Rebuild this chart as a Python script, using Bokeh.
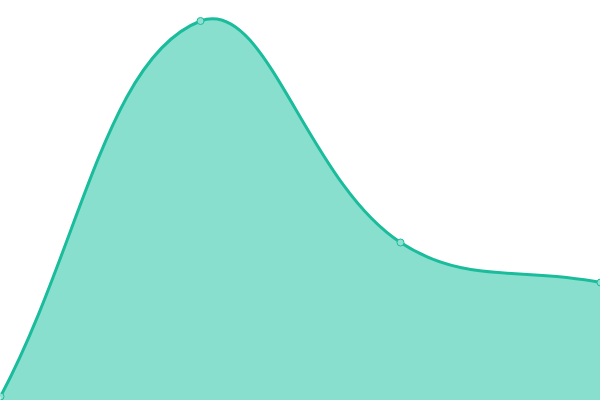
import numpy as np
from bokeh.plotting import figure
from bokeh.embed import file_html
from bokeh.resources import INLINE
from bokeh.models import ColumnDataSource

# data
categories = [0, 1, 2, 3]
values = [4, 379.5, 158, 118]

LINE = "#1abc9c"
FILL = "#88dfce"
W, H = 600, 400
X0, X1 = 0, 3
Y0, Y1 = 0, 400
TENSION = 0.4

sx = W / (X1 - X0)
sy = H / (Y1 - Y0)

# Chart.js-style cardinal spline control points (computed in pixel-isotropic space)
px = np.array(categories, dtype=float) * sx
py = np.array(values, dtype=float) * sy
n = len(px)
cp_prev = np.zeros((n, 2))
cp_next = np.zeros((n, 2))
for i in range(n):
    cur = np.array([px[i], py[i]])
    prev = np.array([px[i - 1], py[i - 1]]) if i > 0 else cur
    nxt = np.array([px[i + 1], py[i + 1]]) if i < n - 1 else cur
    d01 = np.hypot(*(cur - prev))
    d12 = np.hypot(*(nxt - cur))
    tot = d01 + d12
    s01 = d01 / tot if tot else 0
    s12 = d12 / tot if tot else 0
    fa = TENSION * s01
    fb = TENSION * s12
    cp_prev[i] = cur - fa * (nxt - prev)
    cp_next[i] = cur + fb * (nxt - prev)

# back to data units
x0s = px[:-1] / sx
y0s = py[:-1] / sy
x1s = px[1:] / sx
y1s = py[1:] / sy
cx0 = cp_next[:-1, 0] / sx
cy0 = cp_next[:-1, 1] / sy
cx1 = cp_prev[1:, 0] / sx
cy1 = cp_prev[1:, 1] / sy

# sample curve for the filled area
t = np.linspace(0, 1, 80)
fx, fy = [], []
for i in range(n - 1):
    bx = ((1 - t) ** 3 * x0s[i] + 3 * (1 - t) ** 2 * t * cx0[i]
          + 3 * (1 - t) * t ** 2 * cx1[i] + t ** 3 * x1s[i])
    by = ((1 - t) ** 3 * y0s[i] + 3 * (1 - t) ** 2 * t * cy0[i]
          + 3 * (1 - t) * t ** 2 * cy1[i] + t ** 3 * y1s[i])
    fx.extend(bx.tolist())
    fy.extend(by.tolist())

p = figure(width=W, height=H, x_range=(X0, X1), y_range=(Y0, Y1),
           output_backend="svg", toolbar_location=None,
           min_border=0, min_border_left=0, min_border_right=0,
           min_border_top=0, min_border_bottom=0)
p.axis.visible = False
p.grid.visible = False
p.outline_line_color = None
p.background_fill_color = "white"
p.border_fill_color = "white"

p.varea(x=fx, y1=[Y0] * len(fx), y2=fy, fill_color=FILL, fill_alpha=1.0)

bsrc = ColumnDataSource(dict(x0=x0s, y0=y0s, x1=x1s, y1=y1s,
                             cx0=cx0, cy0=cy0, cx1=cx1, cy1=cy1))
p.bezier(x0="x0", y0="y0", x1="x1", y1="y1", cx0="cx0", cy0="cy0",
         cx1="cx1", cy1="cy1", source=bsrc, line_color=LINE, line_width=3)

p.scatter(x=categories, y=values, size=7, fill_color="#8fe0d0",
          line_color=LINE, line_width=1)

html = file_html(p, INLINE)
html = html.replace("<head>", "<head><style>html,body{margin:0;padding:0;overflow:hidden;}</style>", 1)
open("out.html", "w").write(html)
